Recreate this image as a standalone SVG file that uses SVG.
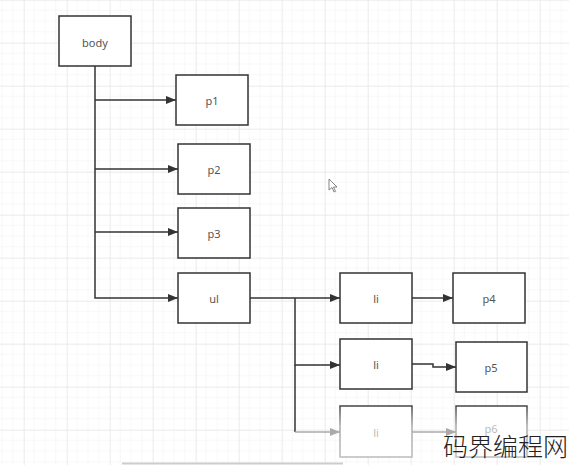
<svg xmlns="http://www.w3.org/2000/svg" width="569" height="465" viewBox="0 0 569 465">
  <defs>
    <pattern id="minor" width="10.75" height="10.75" patternUnits="userSpaceOnUse" x="2.5" y="0">
      <path d="M10.75 0V10.75M0 10.75H10.75" fill="none" stroke="#f1f1f1" stroke-width="1"/>
    </pattern>
    <pattern id="major" width="43" height="43" patternUnits="userSpaceOnUse" x="24" y="0">
      <path d="M0 0V43M0 0H43" fill="none" stroke="#e4e4e4" stroke-width="1"/>
    </pattern>
    <marker id="arr" viewBox="0 0 10 8" refX="10" refY="4" markerWidth="10" markerHeight="8" markerUnits="userSpaceOnUse" orient="auto">
      <path d="M0 0L10 4L0 8Z" fill="#333"/>
    </marker>
    <marker id="arrg" viewBox="0 0 10 8" refX="10" refY="4" markerWidth="10" markerHeight="8" markerUnits="userSpaceOnUse" orient="auto">
      <path d="M0 0L10 4L0 8Z" fill="#aaa"/>
    </marker>
    <linearGradient id="fade" x1="0" y1="0" x2="0" y2="1">
      <stop offset="0" stop-color="#444"/>
      <stop offset="0.4" stop-color="#aaa"/>
      <stop offset="1" stop-color="#bbb"/>
    </linearGradient>
  </defs>
  <style>
    .box { fill: #fff; stroke: #333; stroke-width: 1.5; }
    .fadebox { fill: #fff; stroke: url(#fade); stroke-width: 1.5; }
    .lbl { font-family: "Noto Sans", "Liberation Sans", sans-serif; font-size: 11px; fill: #555; text-anchor: middle; dominant-baseline: central; }
    .conn { fill: none; stroke: #333; stroke-width: 1.5; }
    .conng { fill: none; stroke: #aaa; stroke-width: 1.5; }
  </style>
  <rect width="569" height="465" fill="#fff"/>
  <rect width="569" height="465" fill="url(#minor)"/>
  <rect width="569" height="465" fill="url(#major)"/>

  <g id="connectors">
    <path class="conn" d="M95 66V298H178" marker-end="url(#arr)"/>
    <path class="conn" d="M95 100H176" marker-end="url(#arr)"/>
    <path class="conn" d="M95 169H178" marker-end="url(#arr)"/>
    <path class="conn" d="M95 232H178" marker-end="url(#arr)"/>
    <path class="conn" d="M250 298H340" marker-end="url(#arr)"/>
    <path class="conn" d="M295 298V365H340" marker-end="url(#arr)"/>
    <path class="conn" d="M295 365V432"/>
    <path class="conng" d="M295 432H340" marker-end="url(#arrg)"/>
    <path class="conn" d="M412 298H453" marker-end="url(#arr)"/>
    <path class="conn" d="M412 364H433V367H456" marker-end="url(#arr)"/>
    <path class="conng" d="M412 432H456" marker-end="url(#arrg)"/>
  </g>

  <g id="body"><rect class="box" x="59" y="16" width="72" height="50"/><text class="lbl" x="95" y="42">body</text></g>
  <g id="p1"><rect class="box" x="176" y="75" width="72" height="50"/><text class="lbl" x="212" y="100">p1</text></g>
  <g id="p2"><rect class="box" x="178" y="144" width="72" height="50"/><text class="lbl" x="214" y="169">p2</text></g>
  <g id="p3"><rect class="box" x="178" y="208" width="72" height="50"/><text class="lbl" x="214" y="233">p3</text></g>
  <g id="ul"><rect class="box" x="178" y="273" width="72" height="50"/><text class="lbl" x="214" y="298">ul</text></g>
  <g id="li1"><rect class="box" x="340" y="273" width="72" height="50"/><text class="lbl" x="376" y="298">li</text></g>
  <g id="p4"><rect class="box" x="453" y="273" width="72" height="50"/><text class="lbl" x="489" y="298">p4</text></g>
  <g id="li2"><rect class="box" x="340" y="339" width="72" height="50"/><text class="lbl" x="376" y="364">li</text></g>
  <g id="p5"><rect class="box" x="456" y="342" width="71" height="50"/><text class="lbl" x="491" y="367">p5</text></g>
  <g id="li3"><rect class="fadebox" x="340" y="406" width="72" height="51"/><text class="lbl" x="376" y="432" style="fill:#bbb">li</text></g>
  <g id="p6"><rect class="fadebox" x="456" y="406" width="71" height="51"/><text class="lbl" x="491" y="428" style="fill:#bbb">p6</text></g>

  <path d="M329 179V190L332 187.5L334 192L335.5 191.3L333.5 187H337Z" fill="#fff" stroke="#666" stroke-width="0.8"/>
  <line x1="122" y1="463.5" x2="343" y2="463.5" stroke="#ccc" stroke-width="2"/>

  <text x="443" y="456" font-family="Noto Sans CJK SC, sans-serif" font-weight="300" font-size="25" fill="#222">码界编程网</text>
</svg>
